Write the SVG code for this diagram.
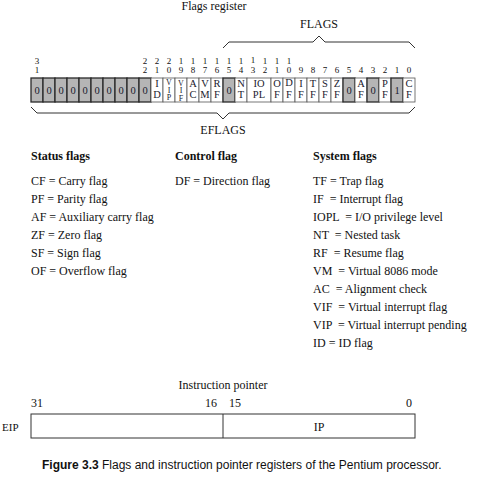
<svg xmlns="http://www.w3.org/2000/svg" width="496" height="481" viewBox="0 0 496 481">
<style>
.t{font-family:"Liberation Serif","Times New Roman",serif;fill:#111}
.s12{font-size:12px}
.b{font-weight:bold}
.bn{font-family:"Liberation Serif",serif;font-size:9px;fill:#111;text-anchor:middle}
.cl{font-family:"Liberation Serif",serif;font-size:10.5px;fill:#1a1a2e;text-anchor:middle}
.cs{font-family:"Liberation Serif",serif;font-size:8px;fill:#1a1a2e;text-anchor:middle}
.g{fill:#b5b5b5;stroke:#2a2a2a;stroke-width:1.3}
.w{fill:#fff;stroke:#555;stroke-width:0.8}
.br{fill:none;stroke:#333;stroke-width:1}
.mid{text-anchor:middle}
.end{text-anchor:end}
.cap{font-family:"Liberation Sans",Arial,sans-serif;font-size:12px;fill:#111}
</style>

<text class="t s12 mid" x="214" y="10">Flags register</text>

<g id="braces">
<path class="br" d="M223,48 L229,42 L313,42 L319,36 L325,42 L409,42 L415,48"/>
<path class="br" d="M31,107 L37,113 L217,113 L223,119 L229,113 L409,113 L415,107"/>
<text class="t s12 mid" x="319" y="28">FLAGS</text>
<text class="t s12 mid" x="223" y="134">EFLAGS</text>
</g>

<g id="bit-numbers">
<text class="bn" x="37" y="64">3</text><text class="bn" x="37" y="73">1</text>
<text class="bn" x="145" y="64">2</text><text class="bn" x="145" y="73">2</text>
<text class="bn" x="157" y="64">2</text><text class="bn" x="157" y="73">1</text>
<text class="bn" x="169" y="64">2</text><text class="bn" x="169" y="73">0</text>
<text class="bn" x="181" y="64">1</text><text class="bn" x="181" y="73">9</text>
<text class="bn" x="193" y="64">1</text><text class="bn" x="193" y="73">8</text>
<text class="bn" x="205" y="64">1</text><text class="bn" x="205" y="73">7</text>
<text class="bn" x="217" y="64">1</text><text class="bn" x="217" y="73">6</text>
<text class="bn" x="229" y="64">1</text><text class="bn" x="229" y="73">5</text>
<text class="bn" x="241" y="64">1</text><text class="bn" x="241" y="73">4</text>
<text class="bn" x="253" y="63">1</text><text class="bn" x="253" y="73">3</text>
<text class="bn" x="265" y="64">1</text><text class="bn" x="265" y="73">2</text>
<text class="bn" x="277" y="64">1</text><text class="bn" x="277" y="73">1</text>
<text class="bn" x="289" y="64">1</text><text class="bn" x="289" y="73">0</text>
<text class="bn" x="301" y="73">9</text>
<text class="bn" x="313" y="73">8</text>
<text class="bn" x="325" y="73">7</text>
<text class="bn" x="337" y="73">6</text>
<text class="bn" x="349" y="73">5</text>
<text class="bn" x="361" y="73">4</text>
<text class="bn" x="373" y="73">3</text>
<text class="bn" x="385" y="73">2</text>
<text class="bn" x="397" y="73">1</text>
<text class="bn" x="409" y="73">0</text>
</g>

<g id="eflags-register">
<rect class="g" x="31" y="78" width="12" height="24"/>
<rect class="g" x="43" y="78" width="12" height="24"/>
<rect class="g" x="55" y="78" width="12" height="24"/>
<rect class="g" x="67" y="78" width="12" height="24"/>
<rect class="g" x="79" y="78" width="12" height="24"/>
<rect class="g" x="91" y="78" width="12" height="24"/>
<rect class="g" x="103" y="78" width="12" height="24"/>
<rect class="g" x="115" y="78" width="12" height="24"/>
<rect class="g" x="127" y="78" width="12" height="24"/>
<rect class="g" x="139" y="78" width="12" height="24"/>
<rect class="w" x="151" y="78" width="12" height="24"/>
<rect class="w" x="163" y="78" width="12" height="24"/>
<rect class="w" x="175" y="78" width="12" height="24"/>
<rect class="w" x="187" y="78" width="12" height="24"/>
<rect class="w" x="199" y="78" width="12" height="24"/>
<rect class="w" x="211" y="78" width="12" height="24"/>
<rect class="g" x="223" y="78" width="12" height="24"/>
<rect class="w" x="235" y="78" width="12" height="24"/>
<rect class="w" x="247" y="78" width="24" height="24"/>
<rect class="w" x="271" y="78" width="12" height="24"/>
<rect class="w" x="283" y="78" width="12" height="24"/>
<rect class="w" x="295" y="78" width="12" height="24"/>
<rect class="w" x="307" y="78" width="12" height="24"/>
<rect class="w" x="319" y="78" width="12" height="24"/>
<rect class="w" x="331" y="78" width="12" height="24"/>
<rect class="g" x="343" y="78" width="12" height="24"/>
<rect class="w" x="355" y="78" width="12" height="24"/>
<rect class="g" x="367" y="78" width="12" height="24"/>
<rect class="w" x="379" y="78" width="12" height="24"/>
<rect class="g" x="391" y="78" width="12" height="24"/>
<rect class="w" x="403" y="78" width="12" height="24"/>

<text class="cl" x="37" y="94">0</text>
<text class="cl" x="49" y="94">0</text>
<text class="cl" x="61" y="94">0</text>
<text class="cl" x="73" y="94">0</text>
<text class="cl" x="85" y="94">0</text>
<text class="cl" x="97" y="94">0</text>
<text class="cl" x="109" y="94">0</text>
<text class="cl" x="121" y="94">0</text>
<text class="cl" x="133" y="94">0</text>
<text class="cl" x="145" y="94">0</text>
<text class="cl" x="157" y="87">I</text><text class="cl" x="157" y="98">D</text>
<text class="cs" x="169" y="85">V</text><text class="cs" x="169" y="92.5">I</text><text class="cs" x="169" y="100">P</text>
<text class="cs" x="181" y="85.5">V</text><text class="cs" x="181" y="93">I</text><text class="cs" x="181" y="100.5">F</text>
<text class="cl" x="193" y="87">A</text><text class="cl" x="193" y="98">C</text>
<text class="cl" x="205" y="87">V</text><text class="cl" x="205" y="98">M</text>
<text class="cl" x="217" y="87">R</text><text class="cl" x="217" y="98">F</text>
<text class="cl" x="229" y="94">0</text>
<text class="cl" x="241" y="87">N</text><text class="cl" x="241" y="98">T</text>
<text class="cl" x="259" y="87">IO</text><text class="cl" x="259" y="98">PL</text>
<text class="cl" x="277" y="87">O</text><text class="cl" x="277" y="98">F</text>
<text class="cl" x="289" y="86">D</text><text class="cl" x="289" y="98">F</text>
<text class="cl" x="301" y="87">I</text><text class="cl" x="301" y="98">F</text>
<text class="cl" x="313" y="87">T</text><text class="cl" x="313" y="98">F</text>
<text class="cl" x="325" y="87">S</text><text class="cl" x="325" y="98">F</text>
<text class="cl" x="337" y="87">Z</text><text class="cl" x="337" y="98">F</text>
<text class="cl" x="349" y="94">0</text>
<text class="cl" x="361" y="87">A</text><text class="cl" x="361" y="98">F</text>
<text class="cl" x="373" y="94">0</text>
<text class="cl" x="385" y="87">P</text><text class="cl" x="385" y="98">F</text>
<text class="cl" x="397" y="94">1</text>
<text class="cl" x="409" y="87">C</text><text class="cl" x="409" y="98">F</text>
</g>

<g id="status-flags" class="t s12">
<text class="b" x="31" y="160">Status flags</text>
<text x="31" y="185">CF = Carry flag</text>
<text x="31" y="203">PF = Parity flag</text>
<text x="31" y="221">AF = Auxiliary carry flag</text>
<text x="31" y="239">ZF = Zero flag</text>
<text x="31" y="257">SF = Sign flag</text>
<text x="31" y="275">OF = Overflow flag</text>
</g>

<g id="control-flag" class="t s12">
<text class="b" x="175" y="160">Control flag</text>
<text x="175" y="185">DF = Direction flag</text>
</g>

<g id="system-flags" class="t s12">
<text class="b" x="313" y="160">System flags</text>
<text x="313" y="185">TF = Trap flag</text>
<text x="313" y="203">IF &#160;= Interrupt flag</text>
<text x="313" y="221">IOPL &#160;= I/O privilege level</text>
<text x="313" y="239">NT &#160;= Nested task</text>
<text x="313" y="257">RF &#160;= Resume flag</text>
<text x="313" y="275">VM &#160;= Virtual 8086 mode</text>
<text x="313" y="293">AC &#160;= Alignment check</text>
<text x="313" y="311">VIF &#160;= Virtual interrupt flag</text>
<text x="313" y="329">VIP &#160;= Virtual interrupt pending</text>
<text x="313" y="347">ID = ID flag</text>
</g>

<g id="instruction-pointer" class="t s12">
<text class="mid" x="223" y="389">Instruction pointer</text>
<text x="31" y="407">31</text>
<text class="end" x="217" y="407">16</text>
<text x="229" y="407">15</text>
<text class="end" x="412" y="407">0</text>
<rect x="31" y="414" width="384" height="24" fill="#fff" stroke="#333" stroke-width="1"/>
<line x1="223" y1="414" x2="223" y2="438" stroke="#333" stroke-width="1"/>
<text class="mid" x="319" y="431">IP</text>
<text x="2" y="431" style="font-size:11px">EIP</text>
</g>

<text class="cap" x="42" y="469"><tspan font-weight="bold">Figure 3.3</tspan> Flags and instruction pointer registers of the Pentium processor.</text>
</svg>
